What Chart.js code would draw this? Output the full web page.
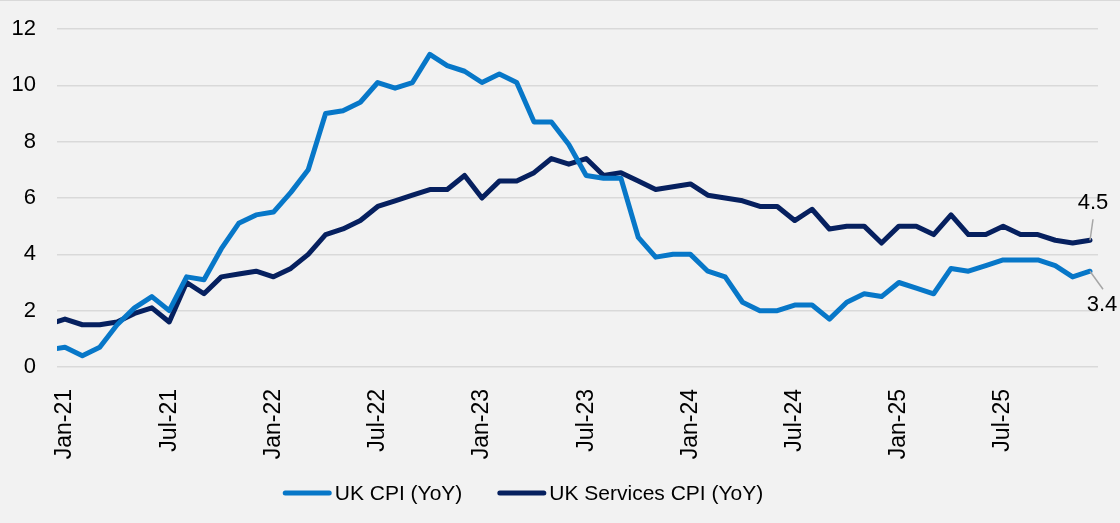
<!DOCTYPE html>
<html>
<head>
<meta charset="utf-8">
<script src="https://cdn.jsdelivr.net/npm/chart.js@4.4.1/dist/chart.umd.min.js"></script>
<style>
  html, body { margin: 0; background: #f2f2f2; }
  #wrap { width: 1120px; height: 523px; }
</style>
</head>
<body>
<div id="wrap"><canvas id="grafico-cpi"></canvas></div>
<script>
const meses = [
  'Dec-20',
  'Jan-21', 'Feb-21', 'Mar-21', 'Apr-21', 'May-21', 'Jun-21', 'Jul-21', 'Aug-21', 'Sep-21', 'Oct-21', 'Nov-21', 'Dec-21',
  'Jan-22', 'Feb-22', 'Mar-22', 'Apr-22', 'May-22', 'Jun-22', 'Jul-22', 'Aug-22', 'Sep-22', 'Oct-22', 'Nov-22', 'Dec-22',
  'Jan-23', 'Feb-23', 'Mar-23', 'Apr-23', 'May-23', 'Jun-23', 'Jul-23', 'Aug-23', 'Sep-23', 'Oct-23', 'Nov-23', 'Dec-23',
  'Jan-24', 'Feb-24', 'Mar-24', 'Apr-24', 'May-24', 'Jun-24', 'Jul-24', 'Aug-24', 'Sep-24', 'Oct-24', 'Nov-24', 'Dec-24',
  'Jan-25', 'Feb-25', 'Mar-25', 'Apr-25', 'May-25', 'Jun-25', 'Jul-25', 'Aug-25', 'Sep-25', 'Oct-25', 'Nov-25', 'Dec-25'
];

const rotulosX = ['Jan-21', 'Jul-21', 'Jan-22', 'Jul-22', 'Jan-23', 'Jul-23', 'Jan-24', 'Jul-24', 'Jan-25', 'Jul-25'];
const rotulosY = [0, 2, 4, 6, 8, 10, 12];

const cpi = [
  0.6,
  0.7, 0.4, 0.7, 1.5, 2.1, 2.5, 2.0, 3.2, 3.1, 4.2, 5.1, 5.4,
  5.5, 6.2, 7.0, 9.0, 9.1, 9.4, 10.1, 9.9, 10.1, 11.1, 10.7, 10.5,
  10.1, 10.4, 10.1, 8.7, 8.7, 7.9, 6.8, 6.7, 6.7, 4.6, 3.9, 4.0,
  4.0, 3.4, 3.2, 2.3, 2.0, 2.0, 2.2, 2.2, 1.7, 2.3, 2.6, 2.5,
  3.0, 2.8, 2.6, 3.5, 3.4, 3.6, 3.8, 3.8, 3.8, 3.6, 3.2, 3.4
];

const servicos = [
  1.5,
  1.7, 1.5, 1.5, 1.6, 1.9, 2.1, 1.6, 3.0, 2.6, 3.2, 3.3, 3.4,
  3.2, 3.5, 4.0, 4.7, 4.9, 5.2, 5.7, 5.9, 6.1, 6.3, 6.3, 6.8,
  6.0, 6.6, 6.6, 6.9, 7.4, 7.2, 7.4, 6.8, 6.9, 6.6, 6.3, 6.4,
  6.5, 6.1, 6.0, 5.9, 5.7, 5.7, 5.2, 5.6, 4.9, 5.0, 5.0, 4.4,
  5.0, 5.0, 4.7, 5.4, 4.7, 4.7, 5.0, 4.7, 4.7, 4.5, 4.4, 4.5
];

const fonte = "'Liberation Sans', Arial, sans-serif";

// x = meses desde Jan-21 (Dec-20 fica em -1, cortado pela area do grafico)
const pontos = serie => serie.map((v, i) => ({ x: i - 1, y: v }));

const fundo = {
  id: 'fundo',
  beforeDraw(chart) {
    const ctx = chart.ctx;
    ctx.save();
    ctx.fillStyle = '#f2f2f2';
    ctx.fillRect(0, 0, chart.width, chart.height);
    ctx.strokeStyle = '#d9d9d9';
    ctx.lineWidth = 1;
    ctx.beginPath();
    ctx.moveTo(0, 0.5);
    ctx.lineTo(chart.width, 0.5);
    ctx.stroke();
    ctx.restore();
  }
};

// rotulo do ultimo valor com linha guia
const rotulosFinais = {
  id: 'rotulosFinais',
  afterDatasetsDraw(chart) {
    const ctx = chart.ctx;
    ctx.save();
    ctx.font = '22px ' + fonte;
    ctx.textAlign = 'center';
    ctx.textBaseline = 'middle';
    chart.data.datasets.forEach((ds, i) => {
      const meta = chart.getDatasetMeta(i);
      const pt = meta.data[meta.data.length - 1];
      const v = ds.data[ds.data.length - 1].y;
      const g = ds.guia;
      ctx.strokeStyle = '#a6a6a6';
      ctx.lineWidth = 1.5;
      ctx.beginPath();
      ctx.moveTo(pt.x, pt.y);
      ctx.lineTo(pt.x + g[0], pt.y + g[1]);
      ctx.stroke();
      ctx.fillStyle = '#000';
      ctx.fillText(v.toFixed(1), pt.x + g[2], pt.y + g[3]);
    });
    ctx.restore();
  }
};

const legenda = {
  id: 'legenda',
  afterDraw(chart) {
    const ctx = chart.ctx;
    ctx.save();
    ctx.font = '21px ' + fonte;
    ctx.textBaseline = 'middle';
    const amostra = 49, espaco = 3, entre = 35;
    const larguras = chart.data.datasets.map(ds => amostra + espaco + ctx.measureText(ds.label).width);
    const total = larguras.reduce((a, b) => a + b, 0) + entre * (larguras.length - 1);
    let x = 523 - total / 2;
    const y = 493;
    chart.data.datasets.forEach((ds, i) => {
      ctx.strokeStyle = ds.borderColor;
      ctx.lineWidth = 5;
      ctx.lineCap = 'round';
      ctx.beginPath();
      ctx.moveTo(x + 2.5, y);
      ctx.lineTo(x + amostra - 2.5, y);
      ctx.stroke();
      ctx.fillStyle = '#000';
      ctx.fillText(ds.label, x + amostra + espaco, y + 1);
      x += larguras[i] + entre;
    });
    ctx.restore();
  }
};

new Chart(document.getElementById('grafico-cpi'), {
  type: 'line',
  data: {
    datasets: [
      {
        label: 'UK CPI (YoY)',
        data: pontos(cpi),
        borderColor: '#0777c8',
        guia: [13, 18, 12, 34]
      },
      {
        label: 'UK Services CPI (YoY)',
        data: pontos(servicos),
        borderColor: '#06205f',
        guia: [3, -21, 3, -37]
      }
    ]
  },
  options: {
    responsive: true,
    maintainAspectRatio: false,
    animation: false,
    layout: { padding: { top: 29, right: 22, bottom: 0, left: 0 } },
    elements: {
      line: { borderWidth: 5, tension: 0, borderJoinStyle: 'round', borderCapStyle: 'round' },
      point: { radius: 0, hoverRadius: 0 }
    },
    datasets: { line: { clip: 0 } },
    plugins: {
      legend: { display: false },
      tooltip: { enabled: false }
    },
    scales: {
      x: {
        type: 'linear',
        min: -0.46,
        max: 59.46,
        grid: { display: false },
        border: { display: false },
        afterBuildTicks: scale => {
          scale.ticks = rotulosX.map(r => ({ value: meses.indexOf(r) - 1 }));
        },
        afterFit: scale => {
          scale.height = 156;
          scale.paddingLeft = 0;
          scale.paddingRight = 0;
        },
        ticks: {
          autoSkip: false,
          minRotation: 90,
          maxRotation: 90,
          padding: 14,
          color: '#000',
          font: { family: fonte, size: 23 },
          callback: v => meses[v + 1]
        }
      },
      y: {
        min: 0,
        max: 12,
        grid: { color: '#d9d9d9', lineWidth: 1.5, drawTicks: false },
        border: { display: false },
        afterBuildTicks: scale => {
          scale.ticks = rotulosY.map(v => ({ value: v }));
        },
        afterFit: scale => {
          scale.width = 57;
          scale.paddingTop = 0;
          scale.paddingBottom = 0;
        },
        ticks: {
          padding: 21,
          color: '#000',
          font: { family: fonte, size: 22 }
        }
      }
    }
  },
  plugins: [fundo, rotulosFinais, legenda]
});
</script>
</body>
</html>
